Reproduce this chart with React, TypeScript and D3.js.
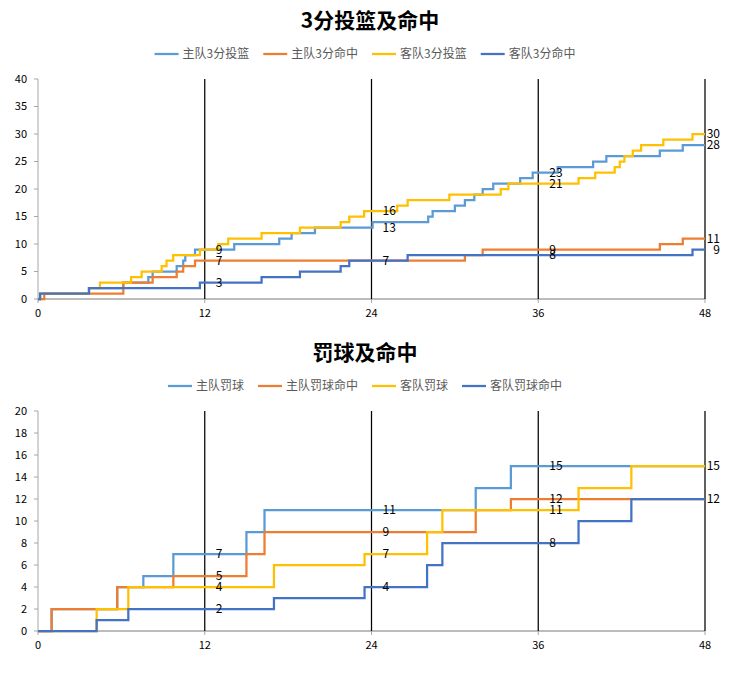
import * as d3 from "d3";

type Step = [number, number];

const xTicks = [0, 12, 24, 36, 48];
const markMinutes = [12, 24, 36, 48];
const colors = ["#5B9BD5", "#ED7D31", "#FFC000", "#4472C4"];

// 3-point attempts / makes: [minute, cumulative count]
const threeNames = ["主队3分投篮", "主队3分命中", "客队3分投篮", "客队3分命中"];
const homeThreeAtt: Step[] = [
    [0, 0], [0.15, 1], [3.67, 2], [6.14, 3], [7.94, 4], [8.25, 5], [9.98, 6], [10.45, 7], [10.6, 8],
    [11.3, 9], [14.12, 10], [17.36, 11], [18.25, 12], [19.93, 13], [24.08, 14], [28.08, 15], [28.4, 16],
    [30.0, 17], [30.72, 18], [31.4, 19], [32.0, 20], [32.76, 21], [34.7, 22], [35.6, 23], [37.4, 24],
    [39.95, 25], [40.9, 26], [44.75, 27], [46.4, 28],
];
const homeThreeMade: Step[] = [
    [0, 0], [0.45, 1], [6.14, 3], [8.25, 4], [9.98, 5], [10.45, 6], [11.3, 7], [30.72, 8], [32.0, 9],
    [44.75, 10], [46.4, 11],
];
const awayThreeAtt: Step[] = [
    [0, 0], [0.15, 1], [3.67, 2], [4.46, 3], [6.7, 4], [7.46, 5], [8.9, 6], [9.25, 7], [9.73, 8],
    [11.65, 9], [12.97, 10], [13.69, 11], [16.09, 12], [18.85, 13], [21.78, 14], [22.4, 15], [23.47, 16],
    [25.85, 17], [26.6, 18], [29.6, 19], [33.3, 20], [33.85, 21], [38.9, 22], [40.1, 23], [41.5, 24],
    [41.87, 25], [42.2, 26], [42.8, 27], [43.4, 28], [45.0, 29], [47.1, 30],
];
const awayThreeMade: Step[] = [
    [0, 0], [0.15, 1], [3.67, 2], [11.65, 3], [16.09, 4], [18.85, 5], [21.78, 6], [22.4, 7], [26.6, 8],
    [47.1, 9],
];

// free throws
const ftNames = ["主队罚球", "主队罚球命中", "客队罚球", "客队罚球命中"];
const homeFtAtt: Step[] = [
    [0, 0], [0.98, 2], [5.7, 4], [7.58, 5], [9.74, 7], [15.0, 9], [16.3, 11], [31.5, 13], [34.03, 15],
];
const homeFtMade: Step[] = [
    [0, 0], [0.98, 2], [5.7, 4], [9.74, 5], [15.0, 7], [16.3, 9], [31.5, 11], [34.03, 12],
];
const awayFtAtt: Step[] = [
    [0, 0], [4.22, 2], [6.5, 4], [16.98, 6], [23.5, 7], [28.0, 9], [29.1, 11], [38.9, 13], [42.7, 15],
];
const awayFtMade: Step[] = [
    [0, 0], [4.22, 1], [6.5, 2], [16.98, 3], [23.5, 4], [28.0, 6], [29.1, 8], [38.9, 10], [42.7, 12],
];

const font = "'Noto Sans CJK SC', sans-serif";

function valueAt(steps: Step[], t: number) {
    let v = 0;
    for (const [m, y] of steps) if (m <= t) v = y;
    return v;
}

function textWidth(s: string, size: number) {
    let w = 0;
    for (const ch of s) w += /[\u4e00-\u9fff]/.test(ch) ? size : size * 0.56;
    return w;
}

function StepChart({
    title,
    names,
    series,
    yMax,
    yStep,
    offset,
    titleX,
}: {
    title: string;
    names: string[];
    series: Step[][];
    yMax: number;
    yStep: number;
    offset: number;
    titleX: number;
}) {
    const left = 38;
    const right = 705;
    const plotTop = 79 + offset;
    const plotBottom = 299 + offset;
    const x = d3.scaleLinear([0, 48], [left, right]);
    const y = d3.scaleLinear([0, yMax], [plotBottom, plotTop]);
    const line = d3
        .line<Step>()
        .x((d) => x(d[0]))
        .y((d) => y(d[1]))
        .curve(d3.curveStepAfter);
    const yTicks = d3.range(0, yMax + yStep / 2, yStep);

    // legend layout
    const legendSize = 12;
    const items = names.map((n) => 24 + 4 + textWidth(n, legendSize));
    const gap = 14;
    const total = d3.sum(items) + gap * (items.length - 1);
    let lx = 365 - total / 2;
    const legendPos = items.map((w) => {
        const p = lx;
        lx += w + gap;
        return p;
    });
    const legendY = 54 + offset;

    // data labels at 12/24/36/48, one per distinct value
    const labels: { m: number; v: number }[] = [];
    markMinutes.forEach((m) => {
        const vals = Array.from(new Set(series.map((s) => valueAt(s, m))));
        vals.forEach((v) => labels.push({ m, v }));
    });

    return (
        <g fontFamily={font}>
            <text x={titleX} y={28 + offset} textAnchor="middle" fontSize={21} fontWeight="bold" fill="#000">
                {title}
            </text>
            {names.map((n, i) => (
                <g key={n} transform={`translate(${legendPos[i]},${legendY})`}>
                    <line x1={0} x2={24} y1={0} y2={0} stroke={colors[i]} strokeWidth={2.25} />
                    <text x={28} y={0} dy="0.35em" fontSize={legendSize} fill="#595959">
                        {n}
                    </text>
                </g>
            ))}
            {/* axes */}
            <line x1={left} x2={left} y1={plotTop} y2={plotBottom} stroke="#A6A6A6" strokeWidth={1} />
            <line x1={left} x2={right} y1={plotBottom} y2={plotBottom} stroke="#A6A6A6" strokeWidth={1.5} />
            {yTicks.map((t) => (
                <g key={t}>
                    <line x1={left - 4} x2={left} y1={y(t)} y2={y(t)} stroke="#A6A6A6" />
                    <text x={27} y={y(t)} dy="0.35em" textAnchor="end" fontSize={11} fill="#000">
                        {t}
                    </text>
                </g>
            ))}
            {xTicks.map((t) => (
                <g key={t}>
                    <line x1={x(t)} x2={x(t)} y1={plotBottom} y2={plotBottom + 4} stroke="#A6A6A6" />
                    <text x={x(t)} y={plotBottom + 14} dy="0.35em" textAnchor="middle" fontSize={11} fill="#000">
                        {t}
                    </text>
                </g>
            ))}
            {markMinutes.map((m) => (
                <line key={m} x1={x(m)} x2={x(m)} y1={plotTop} y2={plotBottom} stroke="#000" strokeWidth={1.25} />
            ))}
            {series.map((s, i) => {
                const last = s[s.length - 1];
                return (
                    <path
                        key={i}
                        d={line([...s, [48, last[1]]]) ?? ""}
                        fill="none"
                        stroke={colors[i]}
                        strokeWidth={2.25}
                    />
                );
            })}
            {labels.map(({ m, v }) =>
                m === 48 ? (
                    <text key={`${m}-${v}`} x={720} y={y(v)} dy="0.35em" textAnchor="end" fontSize={12} fill="#000">
                        {v}
                    </text>
                ) : (
                    <text key={`${m}-${v}`} x={x(m) + 11} y={y(v)} dy="0.35em" fontSize={12} fill="#000">
                        {v}
                    </text>
                )
            )}
        </g>
    );
}

export default function App() {
    return (
        <svg width={741} height={680} style={{ position: "absolute", left: 0, top: 0, background: "#fff" }}>
            <StepChart
                title="3分投篮及命中"
                names={threeNames}
                series={[homeThreeAtt, homeThreeMade, awayThreeAtt, awayThreeMade]}
                yMax={40}
                yStep={5}
                offset={0}
                titleX={370}
            />
            <StepChart
                title="罚球及命中"
                names={ftNames}
                series={[homeFtAtt, homeFtMade, awayFtAtt, awayFtMade]}
                yMax={20}
                yStep={2}
                offset={332}
                titleX={365}
            />
        </svg>
    );
}
